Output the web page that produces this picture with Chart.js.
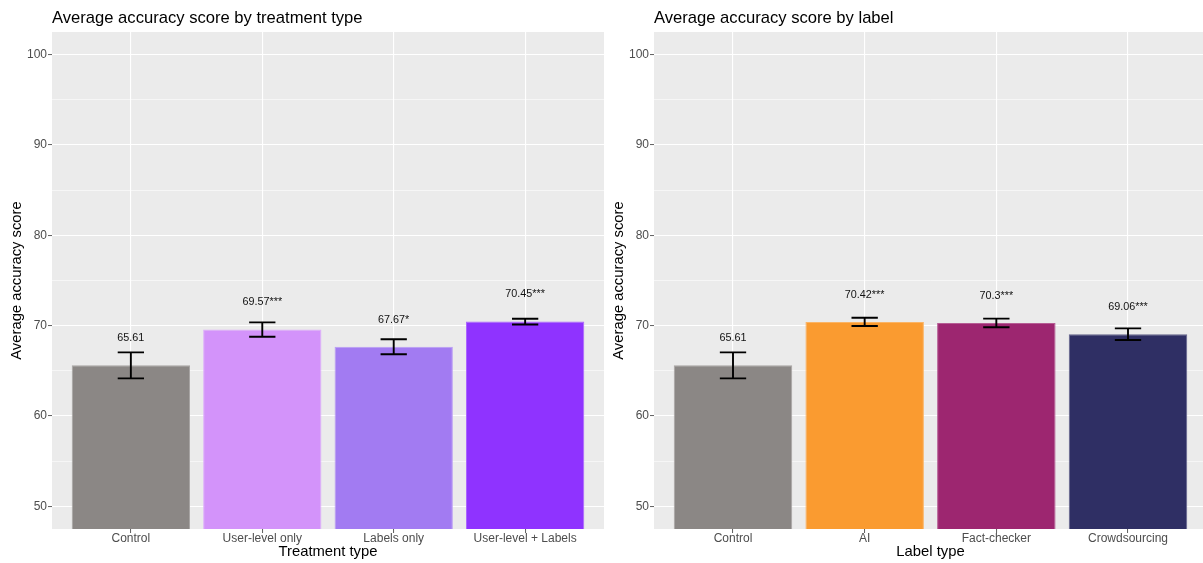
<!DOCTYPE html>
<html>
<head>
<meta charset="utf-8">
<title>Average accuracy score</title>
<script src="https://cdn.jsdelivr.net/npm/chart.js@4.4.1/dist/chart.umd.min.js"></script>
<style>
  html, body { margin: 0; padding: 0; background: #ffffff; overflow: hidden; }
  body { width: 1203px; height: 563px; position: relative; }
  canvas { position: absolute; top: 0; }
  #treatment { left: 0px; }
  #label { left: 602px; }
</style>
</head>
<body>
<canvas id="treatment" width="604" height="563"></canvas>
<canvas id="label" width="605" height="563"></canvas>
<script>
// Treatment-type panel
const treatmentCategories = ["Control", "User-level only", "Labels only", "User-level + Labels"];
const treatmentMeans = [65.61, 69.57, 67.67, 70.45];
const treatmentSE = [1.44, 0.80, 0.83, 0.32];
const treatmentStars = ["", "***", "*", "***"];
const treatmentColors = ["#8B8785", "#D393FA", "#A27BF2", "#8F33FF"];

// Label-type panel
const labelCategories = ["Control", "AI", "Fact-checker", "Crowdsourcing"];
const labelMeans = [65.61, 70.42, 70.3, 69.06];
const labelSE = [1.44, 0.45, 0.48, 0.64];
const labelStars = ["", "***", "***", "***"];
const labelColors = ["#8B8785", "#FA9B30", "#9D2670", "#2F2F64"];

// Axis ticks
const yTicks = [50, 55, 60, 65, 70, 75, 80, 85, 90, 95, 100];

const FONT = "'Liberation Sans', Arial, Helvetica, sans-serif";

function lighten(hex, amt) {
  const n = parseInt(hex.slice(1), 16);
  const r = (n >> 16) & 255, g = (n >> 8) & 255, b = n & 255;
  const f = c => Math.round(c + (255 - c) * amt);
  return `rgb(${f(r)},${f(g)},${f(b)})`;
}

// Grey panel behind the plotting area
const panelPlugin = {
  id: 'panel',
  beforeDraw(chart) {
    const { ctx, chartArea: a } = chart;
    ctx.save();
    ctx.fillStyle = '#EBEBEB';
    ctx.fillRect(a.left, a.top, a.right - a.left, a.bottom - a.top);
    ctx.restore();
  }
};

// Panel title, left-aligned with the plotting area
const headingPlugin = {
  id: 'heading',
  afterDraw(chart, args, opts) {
    const { ctx, chartArea: a } = chart;
    ctx.save();
    ctx.font = `16.6px ${FONT}`;
    ctx.fillStyle = '#000000';
    ctx.textAlign = 'left';
    ctx.textBaseline = 'middle';
    ctx.fillText(opts.text, a.left, 18);
    ctx.restore();
  }
};

// Standard-error bars and value labels
const errorPlugin = {
  id: 'errorbars',
  afterDatasetsDraw(chart, args, opts) {
    const { ctx, scales: { x, y }, chartArea: a } = chart;
    const halfCap = (x.getPixelForValue(0.1) - x.getPixelForValue(0));
    ctx.save();
    ctx.beginPath();
    ctx.rect(a.left, a.top, a.right - a.left, a.bottom - a.top);
    ctx.clip();
    opts.means.forEach((m, i) => {
      const cx = x.getPixelForValue(i);
      const yHi = y.getPixelForValue(m + opts.se[i]);
      const yLo = y.getPixelForValue(m - opts.se[i]);
      ctx.strokeStyle = '#000000';
      ctx.lineWidth = 1.9;
      ctx.beginPath();
      ctx.moveTo(cx, yHi); ctx.lineTo(cx, yLo);
      ctx.moveTo(cx - halfCap, yHi); ctx.lineTo(cx + halfCap, yHi);
      ctx.moveTo(cx - halfCap, yLo); ctx.lineTo(cx + halfCap, yLo);
      ctx.stroke();

      ctx.font = `10.8px ${FONT}`;
      ctx.fillStyle = '#111111';
      ctx.textAlign = 'center';
      ctx.textBaseline = 'middle';
      ctx.fillText(String(m) + opts.stars[i], cx, y.getPixelForValue(m + 3));
    });
    ctx.restore();
  }
};

function makeChart(id, title, xTitle, categories, means, se, stars, colors) {
  return new Chart(document.getElementById(id), {
    type: 'bar',
    data: {
      datasets: [{
        data: means.map((v, i) => ({ x: i, y: v })),
        backgroundColor: colors,
        borderColor: colors.map(c => lighten(c, 0.25)),
        borderWidth: 1,
        borderSkipped: false,
        barPercentage: 0.9,
        categoryPercentage: 1.0
      }]
    },
    options: {
      responsive: false,
      animation: false,
      events: [],
      layout: { padding: { top: 32, left: 0, right: 0, bottom: 0 } },
      plugins: {
        legend: { display: false },
        tooltip: { enabled: false },
        title: { display: false },
        heading: { text: title },
        errorbars: { means, se, stars }
      },
      scales: {
        x: {
          type: 'linear',
          offset: false,
          min: -0.6,
          max: 3.6,
          afterBuildTicks(scale) { scale.ticks = categories.map((_, i) => ({ value: i })); },
          afterFit(scale) { scale.height = 34; },
          ticks: {
            callback: v => categories[v],
            color: '#4D4D4D',
            font: { family: FONT, size: 12 },
            padding: -2,
            maxRotation: 0,
            autoSkip: false
          },
          grid: {
            offset: false,
            color: '#FFFFFF',
            lineWidth: 1.1,
            tickColor: '#333333',
            tickLength: 4,
            tickWidth: 0.8
          },
          border: { display: false },
          title: {
            display: true,
            text: xTitle,
            color: '#000000',
            font: { family: FONT, size: 14.8 },
            padding: { top: 0, bottom: 2.4 }
          }
        },
        y: {
          type: 'linear',
          min: 47.5,
          max: 102.5,
          afterBuildTicks(scale) { scale.ticks = yTicks.map(v => ({ value: v })); },
          afterFit(scale) { scale.width = 52; },
          ticks: {
            callback: v => (v % 10 === 0 ? String(v) : ''),
            color: '#4D4D4D',
            font: { family: FONT, size: 12 },
            padding: 1,
            autoSkip: false
          },
          grid: {
            color: '#FFFFFF',
            lineWidth: ctx => (ctx.tick && ctx.tick.value % 10 === 0 ? 1.1 : 0.55),
            tickColor: ctx => (ctx.tick && ctx.tick.value % 10 === 0 ? '#333333' : 'rgba(0,0,0,0)'),
            tickLength: 4,
            tickWidth: 0.8
          },
          border: { display: false },
          title: {
            display: true,
            text: 'Average accuracy score',
            color: '#000000',
            font: { family: FONT, size: 14.8 },
            padding: { top: 8.3, bottom: 0 }
          }
        }
      }
    },
    plugins: [panelPlugin, headingPlugin, errorPlugin]
  });
}

makeChart('treatment', 'Average accuracy score by treatment type', 'Treatment type',
  treatmentCategories, treatmentMeans, treatmentSE, treatmentStars, treatmentColors);
makeChart('label', 'Average accuracy score by label', 'Label type',
  labelCategories, labelMeans, labelSE, labelStars, labelColors);
</script>
</body>
</html>
